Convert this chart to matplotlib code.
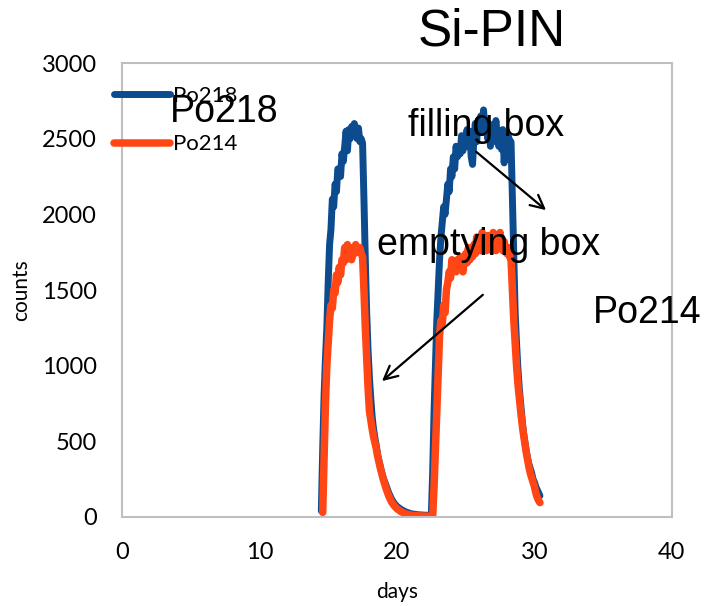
import matplotlib
matplotlib.use("Agg")
import matplotlib.pyplot as plt

# days / counts
days_218 = [14.5, 14.6, 14.7, 14.8, 14.9, 15.0, 15.1, 15.2, 15.3, 15.4,
            15.5, 15.6, 15.7, 15.8, 15.9, 16.0, 16.1, 16.2, 16.3, 16.4,
            16.5, 16.6, 16.7, 16.8, 16.9, 17.0, 17.1, 17.2, 17.3, 17.4,
            17.5, 17.6, 17.7, 17.8, 17.9, 18.0, 18.1, 18.2, 18.3, 18.4,
            18.5, 18.6, 18.8, 19.0, 19.2, 19.4, 19.6, 19.8, 20.0, 20.3,
            20.6, 21.0, 21.5, 22.0, 22.5, 22.6, 22.7, 22.8, 22.9, 23.0,
            23.1, 23.2, 23.3, 23.4, 23.5, 23.6, 23.7, 23.8, 23.9, 24.0,
            24.1, 24.2, 24.3, 24.4, 24.5, 24.6, 24.7, 24.8, 24.9, 25.0,
            25.1, 25.2, 25.3, 25.4, 25.5, 25.6, 25.7, 25.8, 25.9, 26.0,
            26.1, 26.2, 26.3, 26.4, 26.5, 26.6, 26.7, 26.8, 26.9, 27.0,
            27.1, 27.2, 27.3, 27.4, 27.5, 27.6, 27.7, 27.8, 27.9, 28.0,
            28.1, 28.2, 28.3, 28.4, 28.5, 28.6, 28.7, 28.8, 28.9, 29.0,
            29.1, 29.2, 29.3, 29.4, 29.5, 29.6, 29.7, 29.8, 29.9, 30.0,
            30.1, 30.2, 30.3, 30.4]
po218 = [40, 450, 800, 1050, 1250, 1550, 1800, 1900, 2100, 2050,
         2200, 2150, 2300, 2280, 2250, 2400, 2350, 2450, 2550, 2420,
         2560, 2500, 2580, 2540, 2600, 2560, 2500, 2570, 2480, 2500,
         2470, 2100, 1700, 1350, 1100, 920, 780, 660, 580, 520,
         470, 410, 330, 260, 210, 160, 120, 90, 70, 50,
         35, 22, 15, 12, 10, 300, 700, 1000, 1300, 1500,
         1700, 1850, 1950, 2050, 2000, 2100, 2200, 2150, 2300, 2250,
         2380, 2300, 2450, 2380, 2430, 2400, 2520, 2420, 2500, 2480,
         2560, 2450, 2550, 2380, 2330, 2500, 2600, 2480, 2620, 2560,
         2650, 2540, 2690, 2560, 2620, 2500, 2600, 2450, 2580, 2480,
         2560, 2620, 2520, 2450, 2550, 2430, 2560, 2340, 2500, 2450,
         2520, 2480, 2480, 2100, 1700, 1350, 1150, 980, 850, 750,
         650, 560, 500, 440, 390, 350, 320, 290, 250, 230,
         200, 180, 160, 140]

days_214 = [14.6, 14.7, 14.8, 14.9, 15.0, 15.1, 15.2, 15.3, 15.4, 15.5,
            15.6, 15.7, 15.8, 15.9, 16.0, 16.1, 16.2, 16.3, 16.4, 16.5,
            16.6, 16.7, 16.8, 16.9, 17.0, 17.1, 17.2, 17.3, 17.4, 17.5,
            17.6, 17.7, 17.8, 17.9, 18.0, 18.1, 18.2, 18.3, 18.4, 18.5,
            18.6, 18.8, 19.0, 19.2, 19.4, 19.6, 19.8, 20.0, 20.3, 20.6,
            21.0, 21.5, 22.0, 22.6, 22.7, 22.8, 22.9, 23.0, 23.1, 23.2,
            23.3, 23.4, 23.5, 23.6, 23.7, 23.8, 23.9, 24.0, 24.1, 24.2,
            24.3, 24.4, 24.5, 24.6, 24.7, 24.8, 24.9, 25.0, 25.1, 25.2,
            25.3, 25.4, 25.5, 25.6, 25.7, 25.8, 25.9, 26.0, 26.1, 26.2,
            26.3, 26.4, 26.5, 26.6, 26.7, 26.8, 26.9, 27.0, 27.1, 27.2,
            27.3, 27.4, 27.5, 27.6, 27.7, 27.8, 27.9, 28.0, 28.1, 28.2,
            28.3, 28.4, 28.5, 28.6, 28.7, 28.8, 28.9, 29.0, 29.1, 29.2,
            29.3, 29.4, 29.5, 29.6, 29.7, 29.8, 29.9, 30.0, 30.1, 30.2,
            30.3, 30.4]
po214 = [30, 400, 750, 1000, 1150, 1300, 1400, 1380, 1500, 1480,
         1600, 1550, 1650, 1600, 1700, 1680, 1780, 1700, 1800, 1720,
         1760, 1700, 1780, 1740, 1800, 1760, 1750, 1780, 1740, 1720,
         1500, 1250, 1050, 850, 700, 640, 580, 530, 490, 450,
         400, 320, 250, 190, 140, 100, 75, 55, 35, 22,
         12, 8, 6, 5, 200, 450, 700, 950, 1200, 1300,
         1280, 1400, 1350, 1500, 1550, 1620, 1580, 1700, 1650, 1680,
         1620, 1700, 1640, 1720, 1660, 1620, 1700, 1740, 1680, 1780,
         1700, 1760, 1720, 1800, 1740, 1850, 1760, 1820, 1760, 1880,
         1780, 1840, 1760, 1860, 1780, 1820, 1760, 1880, 1800, 1760,
         1840, 1780, 1880, 1800, 1760, 1820, 1760, 1740, 1780, 1720,
         1700, 1500, 1300, 1150, 1000, 880, 790, 700, 620, 550,
         490, 430, 380, 330, 290, 260, 230, 200, 160, 130,
         110, 95]

x_ticks = [0, 10, 20, 30, 40]
y_ticks = [0, 500, 1000, 1500, 2000, 2500, 3000]

blue = "#0B4B8E"
orange = "#FF4614"
grey = "#BFBFBF"
tick_font = "Lato"
big_font = "Liberation Sans"

fig = plt.figure(figsize=(7.08, 6.06), dpi=100)
ax = fig.add_axes([0.1723, 0.1469, 0.7767, 0.7491])

ax.plot(days_218, po218, color=blue, lw=5, label="Po218", solid_capstyle="round")
ax.plot(days_214, po214, color=orange, lw=5.4, label="Po214", solid_capstyle="round")

ax.set_xlim(0, 40)
ax.set_ylim(0, 3000)
ax.set_xticks(x_ticks)
ax.set_yticks(y_ticks)
ax.tick_params(length=0, labelsize=17)
ax.tick_params(axis="x", pad=18)
ax.tick_params(axis="y", pad=18)
for lab in ax.get_xticklabels() + ax.get_yticklabels():
    lab.set_fontfamily(tick_font)
for sp in ax.spines.values():
    sp.set_color(grey)
    sp.set_linewidth(1.5)

ax.set_xlabel("days", fontsize=15, fontfamily=tick_font, labelpad=14)
ax.set_ylabel("counts", fontsize=15, fontfamily=tick_font, labelpad=8)

leg = ax.legend(loc="upper left", bbox_to_anchor=(-0.03, 0.97), frameon=False,
                prop={"family": tick_font, "size": 16}, handlelength=2.5,
                handletextpad=0.15, labelspacing=1.3, borderaxespad=0)

# big free texts
fig.text(492 / 708, 1 - 32 / 606, "Si-PIN", fontsize=37, fontfamily=big_font,
         ha="center", va="center")
ax.text(3.5, 2610, "Po218", fontsize=27, fontfamily=big_font, va="baseline")
ax.text(20.8, 2518, "filling box", fontsize=27, fontfamily=big_font, va="baseline")
ax.text(18.55, 1732, "emptying box", fontsize=27, fontfamily=big_font, va="baseline")
ax.text(34.25, 1282, "Po214", fontsize=27, fontfamily=big_font, va="baseline")

ax.annotate("", xy=(31.0, 2016), xytext=(25.6, 2426),
            arrowprops=dict(arrowstyle="->", color="black", lw=1.6,
                            mutation_scale=24))
ax.annotate("", xy=(18.76, 886), xytext=(26.4, 1480),
            arrowprops=dict(arrowstyle="->", color="black", lw=1.6,
                            mutation_scale=24))

fig.savefig("out.png", dpi=100)
